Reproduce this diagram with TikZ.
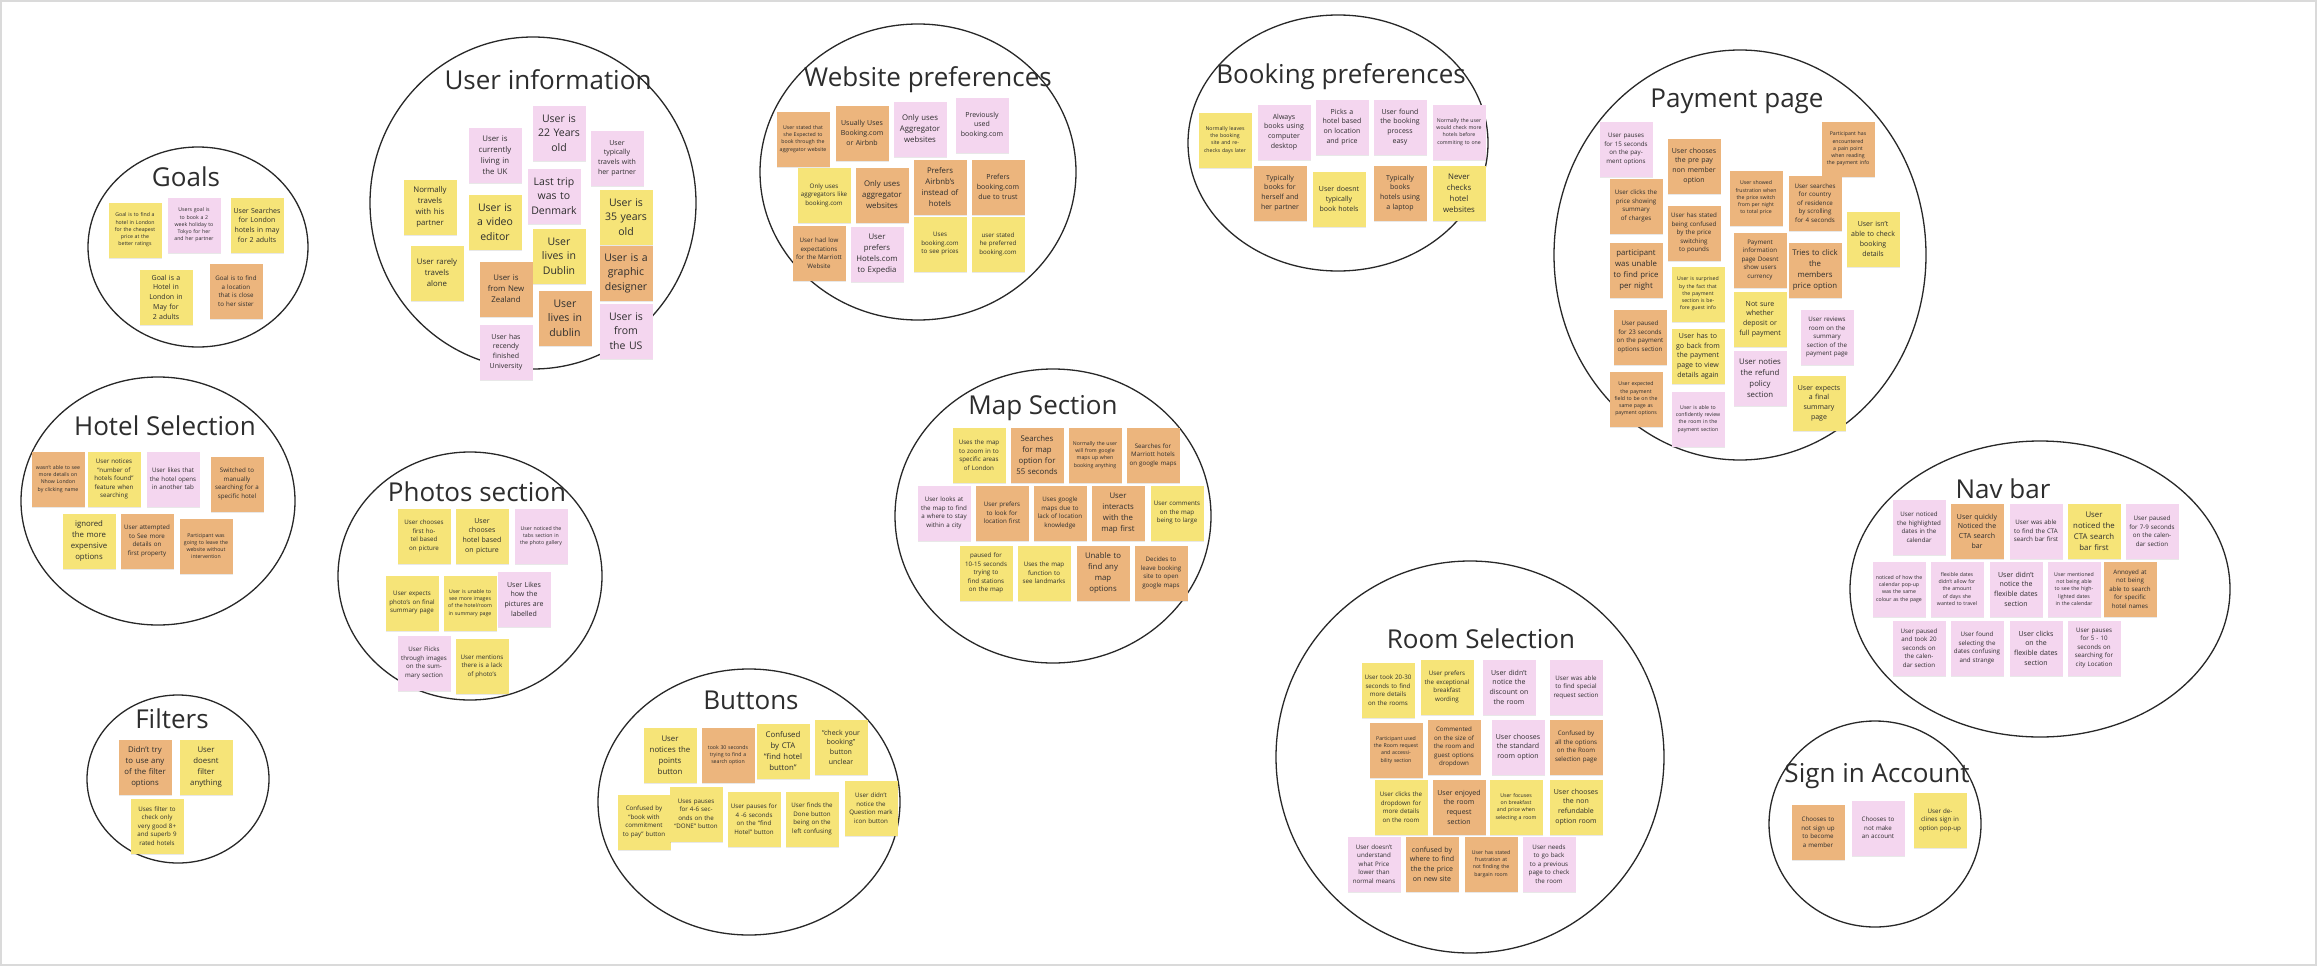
\documentclass[tikz,border=0pt]{standalone}
\usepackage{fontspec}
\setmainfont{Open Sans}
\usetikzlibrary{shadows}
\definecolor{styellow}{RGB}{246,228,120}
\definecolor{storange}{RGB}{236,181,125}
\definecolor{stpink}{RGB}{244,214,239}
\definecolor{ink}{RGB}{45,45,45}
\definecolor{ring}{RGB}{40,40,40}
\definecolor{frame}{RGB}{218,218,218}
\tikzset{
  sticky/.style={rectangle, inner sep=3pt, text width=47pt, minimum height=55pt,
    align=center, text=ink, drop shadow={opacity=0.18, shadow xshift=0.8pt, shadow yshift=-1.4pt}},
  stY/.style={sticky, fill=styellow},
  stO/.style={sticky, fill=storange},
  stP/.style={sticky, fill=stpink},
  fa/.style={font=\fontsize{5.2}{7.2}\selectfont},
  fb/.style={font=\fontsize{6.2}{8.5}\selectfont},
  fc/.style={font=\fontsize{7}{9.7}\selectfont},
  fd/.style={font=\fontsize{7.8}{11}\selectfont},
  fe/.style={font=\fontsize{10.5}{14.5}\selectfont},
  ringst/.style={draw=ring, line width=1.3pt},
  titlest/.style={font=\fontsize{26}{30}\selectfont, text=ink, inner sep=0pt}
}
\newcommand\mystk[5]{\node[#1,#2] (#3) at (#4) {#5};}
\begin{document}
\begin{tikzpicture}[x=1pt,y=-1pt]
\useasboundingbox (0,0) rectangle (2317,966);
\fill[white] (0,0) rectangle (2317,966);
\draw[frame, line width=2pt] (1,1) rectangle (2316,965);

% ---------- Goals
\draw[ringst] (198,247) ellipse [x radius=110, y radius=100];
\node[titlest] (tgoals) at (186,177) {Goals};
\mystk{stY}{fa}{g1}{135,230}{Goal is to find a hotel in London for the cheapest price at the better ratings}
\mystk{stP}{fa}{g2}{194,225}{Users goal is to book a 2 week holiday to Tokyo for her and her partner}
\mystk{stY}{fc}{g3}{257,225}{User Searches for London hotels in may for 2 adults}
\mystk{stY}{fc}{g4}{166,297}{Goal is a Hotel in London in May for 2 adults}
\mystk{stO}{fb}{g5}{236,291}{Goal is to find a location that is close to her sister}

% ---------- User information
\draw[ringst] (533,203) ellipse [x radius=163, y radius=166];
\node[titlest] (tuser) at (548,80) {User information};
\mystk{stP}{fe}{u1}{559,133}{User is\\22 Years\\old}
\mystk{stP}{fd}{u2}{495,155}{User is\\currently\\living in\\the UK}
\mystk{stP}{fc}{u3}{617,158}{User\\typically\\travels with\\her partner}
\mystk{stY}{fd}{u4}{430,207}{Normally\\travels\\with his\\partner}
\mystk{stP}{fe}{u5}{554,196}{Last trip\\was to\\Denmark}
\mystk{stY}{fe}{u6}{495,222}{User is\\a video\\editor}
\mystk{stY}{fe}{u7}{626,217}{User is\\35 years\\old}
\mystk{stY}{fe}{u8}{559,256}{User\\lives in\\Dublin}
\mystk{stY}{fd}{u9}{437,273}{User rarely\\travels\\alone}
\mystk{stO}{fe}{u10}{626,273}{User is a\\graphic\\designer}
\mystk{stO}{fd}{u11}{506,289}{User is\\from New\\Zealand}
\mystk{stO}{fe}{u12}{565,318}{User\\lives in\\dublin}
\mystk{stP}{fe}{u13}{626,331}{User is\\from\\the US}
\mystk{stP}{fc}{u14}{506,352}{User has\\recendy\\finished\\University}

% ---------- Website preferences
\draw[ringst] (918,172) ellipse [x radius=158, y radius=148];
\node[titlest] (tweb) at (928,80) {Website preferences};
\mystk{stO}{fa}{w1}{803,139}{User stated that she Expected to book through the aggregator website}
\mystk{stO}{fc}{w2}{862,133}{Usually Uses Booking.com or Airbnb}
\mystk{stP}{fd}{w3}{920,129}{Only uses\\Aggregator\\websites}
\mystk{stP}{fc}{w4}{982,125}{Previously\\used\\booking.com}
\mystk{stY}{fb}{w5}{824,195}{Only uses aggregators like booking.com}
\mystk{stO}{fd}{w6}{882,195}{Only uses\\aggregator\\websites}
\mystk{stO}{fd}{w7}{940,187}{Prefers\\Airbnb's\\instead of\\hotels}
\mystk{stO}{fc}{w8}{998,187}{Prefers\\booking.com\\due to trust}
\mystk{stO}{fb}{w9}{819,253}{User had low expectations for the Marriott Website}
\mystk{stP}{fd}{w10}{877,254}{User\\prefers\\Hotels.com\\to Expedia}
\mystk{stY}{fb}{w11}{940,244}{Uses\\booking.com\\to see prices}
\mystk{stY}{fb}{w12}{998,244}{user stated\\he preferred\\booking.com}

% ---------- Booking preferences
\draw[ringst] (1338,143) ellipse [x radius=150, y radius=128];
\node[titlest] (tbook) at (1341,77) {Booking preferences};
\mystk{stY}{fa}{b1}{1225,140}{Normally leaves the booking site and re-checks days later}
\mystk{stP}{fc}{b2}{1284,132}{Always\\books using\\computer\\desktop}
\mystk{stP}{fc}{b3}{1342,127}{Picks a\\hotel based\\on location\\and price}
\mystk{stP}{fc}{b4}{1400,127}{User found\\the booking\\process\\easy}
\mystk{stP}{fa}{b5}{1459,132}{Normally the user would check more hotels before commiting to one}
\mystk{stO}{fc}{b6}{1280,193}{Typically\\books for\\herself and\\her partner}
\mystk{stY}{fc}{b7}{1339,199}{User doesnt\\typically\\book hotels}
\mystk{stO}{fc}{b8}{1400,193}{Typically\\books\\hotels using\\a laptop}
\mystk{stY}{fd}{b9}{1459,193}{Never\\checks\\hotel\\websites}

% ---------- Payment page
\draw[ringst] (1740,255) ellipse [x radius=186, y radius=205];
\node[titlest] (tpay) at (1737,101) {Payment page};
\mystk{stP}{fb}{p1}{1626,149}{User pauses for 15 seconds on the payment options}
\mystk{stO}{fc}{p2}{1694,166}{User chooses the pre pay non member option}
\mystk{stO}{fa}{p3}{1848,149}{Participant has encountered a pain point when reading the payment info}
\mystk{stO}{fb}{p4}{1636,206}{User clicks the price showing summary of charges}
\mystk{stO}{fa}{p5}{1756,198}{User showed frustration when the price switch from per night to total price}
\mystk{stO}{fb}{p6}{1815,203}{User searches for country of residence by scrolling for 4 seconds}
\mystk{stO}{fb}{p7}{1694,233}{User has stated being confused by the price switching to pounds}
\mystk{stY}{fc}{p8}{1873,239}{User isn't able to check booking details}
\mystk{stO}{fd}{p9}{1636,270}{participant\\was unable\\to find price\\per night}
\mystk{stO}{fb}{p10}{1760,260}{Payment information page Doesnt show users currency}
\mystk{stO}{fd}{p11}{1815,270}{Tries to click\\the\\members\\price option}
\mystk{stY}{fa}{p12}{1698,294}{User is surprised by the fact that the payment section is before guest info}
\mystk{stY}{fc}{p13}{1760,319}{Not sure\\whether\\deposit or\\full payment}
\mystk{stO}{fb}{p14}{1640,337}{User paused for 23 seconds on the payment options section}
\mystk{stY}{fc}{p15}{1698,356}{User has to go back from the payment page to view details again}
\mystk{stP}{fb}{p16}{1827,337}{User reviews room on the summary section of the payment page}
\mystk{stP}{fd}{p17}{1760,378}{User noties\\the refund\\policy\\section}
\mystk{stO}{fa}{p18}{1636,399}{User expected the payment field to be on the same page as payment options}
\mystk{stY}{fc}{p19}{1819,403}{User expects\\a final\\summary\\page}
\mystk{stP}{fa}{p20}{1698,419}{User is able to confidently review the room in the payment section}

% ---------- Hotel Selection
\draw[ringst] (158,501) ellipse [x radius=137, y radius=124];
\node[titlest] (thotel) at (165,426) {Hotel Selection};
\mystk{stO}{fa}{h1}{58,479}{wasn't able to see more details on Nhow London by clicking name}
\mystk{stY}{fb}{h2}{114,479}{User notices ``number of hotels found'' feature when searching}
\mystk{stP}{fb}{h3}{173,479}{User likes that the hotel opens in another tab}
\mystk{stO}{fb}{h4}{237,484}{Switched to manually searching for a specific hotel}
\mystk{stY}{fd}{h5}{89,541}{ignored\\the more\\expensive\\options}
\mystk{stO}{fb}{h6}{147,541}{User attempted to See more details on first property}
\mystk{stO}{fa}{h7}{206,546}{Participant was going to leave the website without intervention}

% ---------- Photos section
\draw[ringst] (470,576) ellipse [x radius=132, y radius=124];
\node[titlest] (tphoto) at (477,492) {Photos section};
\mystk{stY}{fb}{ph1}{424,536}{User chooses first hotel based on picture}
\mystk{stY}{fc}{ph2}{482,536}{User\\chooses\\hotel based\\on picture}
\mystk{stP}{fa}{ph3}{541,536}{User noticed the tabs section in the photo gallery}
\mystk{stY}{fb}{ph4}{412,603}{User expects photo's on final summary page}
\mystk{stY}{fa}{ph5}{470,603}{User is unable to see more images of the hotel/room in summary page}
\mystk{stP}{fc}{ph6}{524,599}{User Likes\\how the\\pictures are\\labelled}
\mystk{stP}{fb}{ph7}{424,663}{User Flicks through images on the summary section}
\mystk{stY}{fb}{ph8}{482,666}{User mentions there is a lack of photo's}

% ---------- Map Section
\draw[ringst] (1053,516) ellipse [x radius=158, y radius=147];
\node[titlest] (tmap) at (1043,408) {Map Section};
\mystk{stY}{fb}{m1}{979,455}{Uses the map to zoom in to specific areas of London}
\mystk{stO}{fd}{m2}{1037,455}{Searches\\for map\\option for\\55 seconds}
\mystk{stO}{fa}{m3}{1095,455}{Normally the user will from google maps up when booking anything}
\mystk{stO}{fb}{m4}{1153,455}{Searches for Marriott hotels on google maps}
\mystk{stP}{fb}{m5}{944,513}{User looks at the map to find a where to stay within a city}
\mystk{stO}{fb}{m6}{1002,513}{User prefers to look for location first}
\mystk{stO}{fb}{m7}{1060,513}{Uses google maps due to lack of location knowledge}
\mystk{stO}{fd}{m8}{1118,513}{User\\interacts\\with the\\map first}
\mystk{stY}{fb}{m9}{1177,513}{User comments on the map being to large}
\mystk{stY}{fb}{m10}{986,573}{paused for 10-15 seconds trying to find stations on the map}
\mystk{stY}{fb}{m11}{1044,573}{Uses the map function to see landmarks}
\mystk{stO}{fd}{m12}{1103,573}{Unable to\\find any\\map\\options}
\mystk{stO}{fb}{m13}{1161,573}{Decides to leave booking site to open google maps}

% ---------- Nav bar
\draw[ringst] (2040,589) ellipse [x radius=190, y radius=148];
\node[titlest] (tnav) at (2003,489) {Nav bar};
\mystk{stP}{fb}{n1}{1919,527}{User noticed the highlighted dates in the calendar}
\mystk{stO}{fc}{n2}{1977,531}{User quickly\\Noticed the\\CTA search\\bar}
\mystk{stP}{fb}{n3}{2036,531}{User was able to find the CTA search bar first}
\mystk{stY}{fd}{n4}{2094,531}{User\\noticed the\\CTA search\\bar first}
\mystk{stP}{fb}{n5}{2152,531}{User paused for 7-9 seconds on the calendar section}
\mystk{stP}{fa}{n6}{1899,589}{noticed of how the calendar pop-up was the same colour as the page}
\mystk{stP}{fa}{n7}{1957,589}{flexible dates didn't allow for the amount of days she wanted to travel}
\mystk{stP}{fc}{n8}{2016,589}{User didn't\\notice the\\flexible dates\\section}
\mystk{stP}{fa}{n9}{2074,589}{User mentioned not being able to see the highlighted dates in the calendar}
\mystk{stO}{fb}{n10}{2130,589}{Annoyed at not being able to search for specific hotel names}
\mystk{stP}{fb}{n11}{1919,648}{User paused and took 20 seconds on the calendar section}
\mystk{stP}{fb}{n12}{1977,648}{User found selecting the dates confusing and strange}
\mystk{stP}{fc}{n13}{2036,648}{User clicks\\on the\\flexible dates\\section}
\mystk{stP}{fb}{n14}{2094,648}{User pauses for 5 - 10 seconds on searching for city Location}

% ---------- Filters
\draw[ringst] (178,779) ellipse [x radius=91, y radius=84];
\node[titlest] (tfilt) at (172,719) {Filters};
\mystk{stO}{fd}{f1}{145,767}{Didn't try\\to use any\\of the filter\\options}
\mystk{stY}{fd}{f2}{206,767}{User\\doesnt\\filter\\anything}
\mystk{stY}{fb}{f3}{157,826}{Uses filter to check only very good 8+ and superb 9 rated hotels}

% ---------- Buttons
\draw[ringst] (749,802) ellipse [x radius=151, y radius=133];
\node[titlest] (tbut) at (751,700) {Buttons};
\mystk{stY}{fd}{bt1}{670,755}{User\\notices the\\points\\button}
\mystk{stO}{fa}{bt2}{728,755}{took 30 seconds trying to find a search option}
\mystk{stY}{fd}{bt3}{783,751}{Confused\\by CTA\\``find hotel\\button''}
\mystk{stY}{fc}{bt4}{841,747}{``check your\\booking''\\button\\unclear}
\mystk{stY}{fb}{bt5}{644,822}{Confused by ``book with commitment to pay'' button}
\mystk{stY}{fb}{bt6}{696,814}{Uses pauses for 4-6 seconds on the ``DONE'' button}
\mystk{stY}{fb}{bt7}{754,819}{User pauses for 4 -6 seconds on the ``find Hotel'' button}
\mystk{stY}{fb}{bt8}{812,819}{User finds the Done button being on the left confusing}
\mystk{stY}{fb}{bt9}{871,808}{User didn't notice the Question mark icon button}

% ---------- Room Selection
\draw[ringst] (1470,757) ellipse [x radius=194, y radius=196];
\node[titlest] (troom) at (1481,639) {Room Selection};
\mystk{stY}{fb}{r1}{1388,690}{User took 20-30 seconds to find more details on the rooms}
\mystk{stY}{fb}{r2}{1447,687}{User prefers the exceptional breakfast wording}
\mystk{stP}{fc}{r3}{1509,687}{User didn't\\notice the\\discount on\\the room}
\mystk{stP}{fb}{r4}{1576,687}{User was able to find special request section}
\mystk{stO}{fa}{r5}{1396,750}{Participant used the Room request and accessibility section}
\mystk{stO}{fb}{r6}{1454,747}{Commented on the size of the room and guest options dropdown}
\mystk{stP}{fc}{r7}{1518,747}{User chooses\\the standard\\room option}
\mystk{stO}{fb}{r8}{1576,747}{Confused by all the options on the Room selection page}
\mystk{stY}{fb}{r9}{1401,807}{User clicks the dropdown for more details on the room}
\mystk{stO}{fc}{r10}{1459,807}{User enjoyed\\the room\\request\\section}
\mystk{stY}{fa}{r11}{1516,807}{User focuses on breakfast and price when selecting a room}
\mystk{stY}{fc}{r12}{1576,807}{User chooses\\the non\\refundable\\option room}
\mystk{stP}{fb}{r13}{1374,864}{User doesn't understand what Price lower than normal means}
\mystk{stO}{fc}{r14}{1432,864}{confused by\\where to find\\the the price\\on new site}
\mystk{stO}{fa}{r15}{1491,864}{User has stated frustration at not finding the bargain room}
\mystk{stP}{fb}{r16}{1549,864}{User needs to go back to a previous page to check the room}

% ---------- Sign in Account
\draw[ringst] (1875,824) ellipse [x radius=106, y radius=103];
\node[titlest] (tsign) at (1877,776) {Sign in Account};
\mystk{stO}{fb}{s1}{1818,832}{Chooses to not sign up to become a member}
\mystk{stP}{fb}{s2}{1878,828}{Chooses to not make an account}
\mystk{stY}{fb}{s3}{1940,820}{User declines sign in option pop-up}
\end{tikzpicture}
\end{document}
